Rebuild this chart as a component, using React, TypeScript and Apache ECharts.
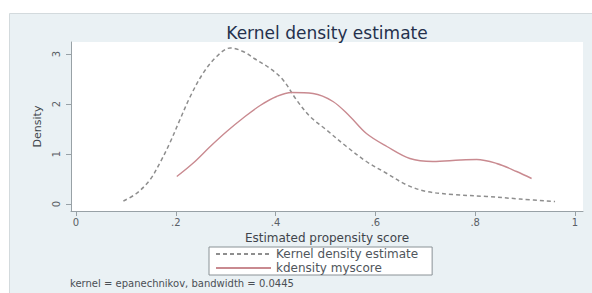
import React, { useEffect, useRef } from "react";
import * as echarts from "echarts";

const titleText = "Kernel density estimate";
const xAxisTitle = "Estimated propensity score";
const yAxisTitle = "Density";
const footerText = "kernel = epanechnikov, bandwidth = 0.0445";
const seriesNames = ["Kernel density estimate", "kdensity myscore"];

const xTickValues = [0, 0.2, 0.4, 0.6, 0.8, 1];
const xTickLabels = ["0", ".2", ".4", ".6", ".8", "1"];
const yTickValues = [0, 1, 2, 3];
const yTickLabels = ["0", "1", "2", "3"];

const kdeX = [0.095, 0.121, 0.148, 0.168, 0.188, 0.208, 0.229, 0.255, 0.282, 0.309, 0.335, 0.362, 0.389, 0.415, 0.442, 0.469, 0.502, 0.542, 0.582, 0.623, 0.663, 0.703, 0.756, 0.823, 0.89, 0.96];
const kdeY = [0.06, 0.21, 0.48, 0.82, 1.22, 1.68, 2.15, 2.62, 2.95, 3.12, 3.05, 2.88, 2.71, 2.48, 2.08, 1.75, 1.48, 1.15, 0.85, 0.61, 0.38, 0.25, 0.19, 0.15, 0.1, 0.05];

const myX = [0.202, 0.235, 0.269, 0.302, 0.335, 0.369, 0.402, 0.432, 0.475, 0.515, 0.549, 0.582, 0.623, 0.669, 0.715, 0.77, 0.803, 0.843, 0.883, 0.913];
const myY = [0.55, 0.82, 1.15, 1.45, 1.72, 1.97, 2.15, 2.23, 2.21, 2.05, 1.75, 1.41, 1.15, 0.91, 0.85, 0.88, 0.89, 0.81, 0.65, 0.51];

const FONT = "'DejaVu Sans', Arial, sans-serif";

function lookup(values: number[], labels: string[], v: number) {
  for (let i = 0; i < values.length; i++) {
    if (Math.abs(values[i] - v) < 1e-6) return labels[i];
  }
  return "";
}

export default function App() {
  const ref = useRef<HTMLDivElement>(null);
  useEffect(() => {
    if (!ref.current) return;
    const chart = echarts.init(ref.current, undefined, { renderer: "svg" });
    const kdeData = kdeX.map((x, i) => [x, kdeY[i]]);
    const myData = myX.map((x, i) => [x, myY[i]]);
    chart.setOption({
      animation: false,
      backgroundColor: "#ffffff",
      graphic: [
        {
          type: "rect",
          z: -10,
          silent: true,
          shape: { x: 9.5, y: 13.5, width: 600, height: 300 },
          style: { fill: "#EAF1F4", stroke: "#d3dadd", lineWidth: 1 },
        },
        {
          type: "text",
          x: 327,
          y: 33,
          z: 10,
          style: {
            text: titleText,
            align: "center",
            verticalAlign: "middle",
            fontFamily: FONT,
            fontSize: 17,
            fill: "#24304c",
          },
        },
        {
          type: "text",
          x: 70,
          y: 283,
          z: 10,
          style: {
            text: footerText,
            align: "left",
            verticalAlign: "middle",
            fontFamily: FONT,
            fontSize: 10,
            fill: "#4a4f55",
          },
        },
      ],
      grid: {
        left: 71,
        right: 9,
        top: 42,
        bottom: 82,
        show: true,
        backgroundColor: "#ffffff",
        borderWidth: 0,
        containLabel: false,
      },
      legend: {
        left: 209,
        top: 247,
        orient: "vertical",
        itemWidth: 55,
        itemHeight: 12,
        itemGap: 2,
        padding: [1, 14, 1, 6],
        borderColor: "#8a9296",
        borderWidth: 1,
        backgroundColor: "#ffffff",
        itemStyle: { opacity: 0 },
        textStyle: { fontFamily: FONT, fontSize: 12, color: "#50565c" },
        data: seriesNames,
      },
      xAxis: {
        type: "value",
        min: -0.01,
        max: 1.016,
        name: xAxisTitle,
        nameLocation: "middle",
        nameGap: 18,
        nameTextStyle: { fontFamily: FONT, fontSize: 12, color: "#3f454b" },
        axisLine: { show: true, onZero: false, lineStyle: { color: "#98a1a6", width: 1 } },
        axisTick: { show: true, length: 5, customValues: xTickValues, lineStyle: { color: "#98a1a6" } },
        axisLabel: {
          show: true,
          customValues: xTickValues,
          margin: 6,
          fontFamily: FONT,
          fontSize: 10,
          color: "#5a6066",
          formatter: (v: number) => lookup(xTickValues, xTickLabels, v),
        },
        splitLine: { show: false },
      },
      yAxis: {
        type: "value",
        min: -0.14,
        max: 3.24,
        name: yAxisTitle,
        nameLocation: "middle",
        nameRotate: 90,
        nameGap: 28,
        nameTextStyle: { fontFamily: FONT, fontSize: 11, color: "#3f454b" },
        axisLine: { show: true, onZero: false, lineStyle: { color: "#98a1a6", width: 1 } },
        axisTick: { show: true, length: 5, customValues: yTickValues, lineStyle: { color: "#98a1a6" } },
        axisLabel: {
          show: true,
          customValues: yTickValues,
          rotate: 90,
          margin: 10,
          fontFamily: FONT,
          fontSize: 10,
          color: "#5a6066",
          formatter: (v: number) => lookup(yTickValues, yTickLabels, v),
        },
        splitLine: { show: false },
      },
      series: [
        {
          name: seriesNames[0],
          type: "line",
          data: kdeData,
          symbol: "none",
          smooth: 0.35,
          lineStyle: { color: "#8e8e8e", width: 1.5, type: [4, 3] },
          itemStyle: { color: "#8e8e8e" },
        },
        {
          name: seriesNames[1],
          type: "line",
          data: myData,
          symbol: "none",
          smooth: 0.35,
          lineStyle: { color: "#c98a90", width: 1.4 },
          itemStyle: { color: "#c98a90" },
        },
      ],
    });
    return () => chart.dispose();
  }, []);
  return (
    <div
      ref={ref}
      style={{ position: "absolute", left: 0, top: 0, width: 592, height: 293 }}
    />
  );
}
